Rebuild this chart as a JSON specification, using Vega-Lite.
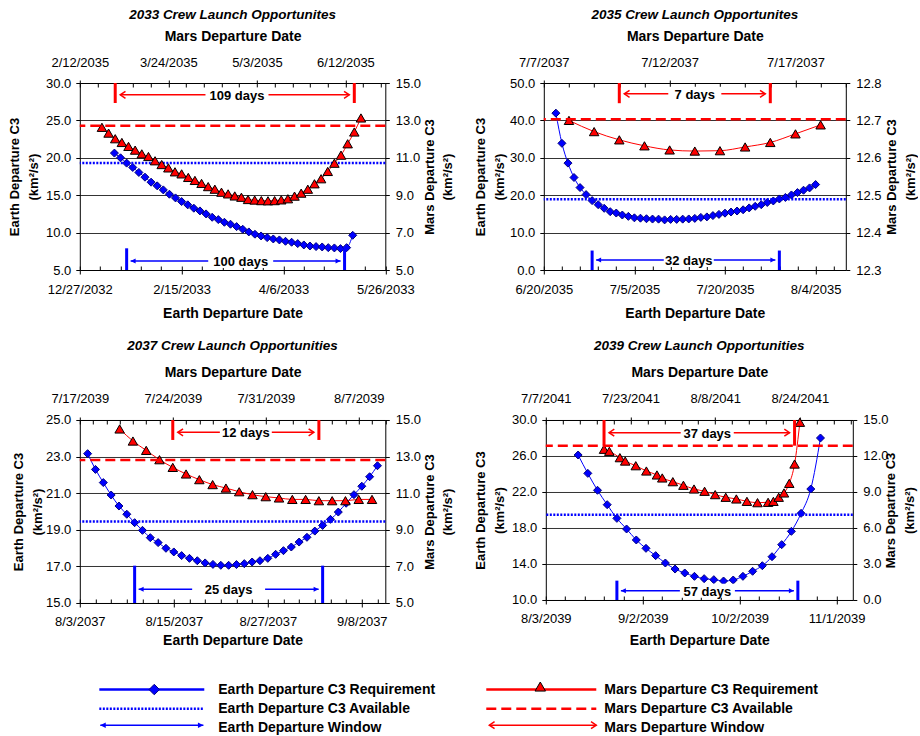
{
"$schema":"https://vega.github.io/schema/vega-lite/v6.json",
"background":"white",
"padding":{"left":8.8,"top":7,"right":0,"bottom":0},
"config":{
 "font":"Liberation Sans",
 "view":{"stroke":null},
 "axis":{"labelFont":"Liberation Sans","labelFontSize":13,"labelColor":"#000","titleFont":"Liberation Sans","titleFontSize":13,"titleFontWeight":"bold","titleColor":"#000","titleLineHeight":18.5,"domainColor":"#000","tickColor":"#000","gridColor":"#333","grid":false,"labelFlush":false,"labelOverlap":false,"labelBound":false},
 "axisX":{"titleFontSize":14},
 "title":{"font":"Liberation Sans","fontSize":13.5,"fontWeight":"bold","fontStyle":"italic","color":"#000","anchor":"middle","frame":"group"},
 "text":{"font":"Liberation Sans"}
},
"datasets":{
 "win":[
  {"p":1,"g":"E","s":"2033-01-19","e":"2033-05-06","m":"2033-03-16","t":"100 days","a":19.29},
  {"p":1,"g":"M","s":"2035-02-28","e":"2035-06-16","m":"2035-04-24","t":"109 days","a":12.71},
  {"p":2,"g":"E","s":"2035-06-28","e":"2035-07-29","m":"2035-07-14","t":"32 days","a":18.9},
  {"p":2,"g":"M","s":"2037-07-10","e":"2037-07-16","m":"2037-07-13","t":"7 days","a":12.703},
  {"p":3,"g":"E","s":"2037-08-10","e":"2037-09-03","m":"2037-08-22","t":"25 days","a":19.46},
  {"p":3,"g":"M","s":"2039-07-24","e":"2039-08-04","m":"2039-07-29T12:00:00Z","t":"12 days","a":12.81},
  {"p":4,"g":"E","s":"2039-08-25","e":"2039-10-20","m":"2039-09-22","t":"57 days","a":19.48},
  {"p":4,"g":"M","s":"2041-07-18","e":"2041-08-23","m":"2041-08-06T12:00:00Z","t":"37 days","a":12.86}
 ],
 "leg":[
  {"g":"E","k":"req","t":"Earth Departure C3 Requirement"},
  {"g":"E","k":"avail","t":"Earth Departure C3 Available"},
  {"g":"E","k":"win","t":"Earth Departure Window"},
  {"g":"M","k":"req","t":"Mars Departure C3 Requirement"},
  {"g":"M","k":"avail","t":"Mars Departure C3 Available"},
  {"g":"M","k":"win","t":"Mars Departure Window"}
 ],
 "e1":[{"d":"2033-01-13","v":20.63},{"d":"2033-01-16","v":20.0},{"d":"2033-01-19","v":19.29},{"d":"2033-01-22","v":18.71},{"d":"2033-01-25","v":18.04},{"d":"2033-01-28","v":17.41},{"d":"2033-01-31","v":16.74},{"d":"2033-02-03","v":16.25},{"d":"2033-02-06","v":15.71},{"d":"2033-02-09","v":15.13},{"d":"2033-02-12","v":14.64},{"d":"2033-02-15","v":14.15},{"d":"2033-02-18","v":13.71},{"d":"2033-02-21","v":13.26},{"d":"2033-02-24","v":12.9},{"d":"2033-02-27","v":12.5},{"d":"2033-03-02","v":12.05},{"d":"2033-03-05","v":11.74},{"d":"2033-03-08","v":11.38},{"d":"2033-03-11","v":11.12},{"d":"2033-03-14","v":10.8},{"d":"2033-03-17","v":10.45},{"d":"2033-03-20","v":10.09},{"d":"2033-03-23","v":9.78},{"d":"2033-03-26","v":9.55},{"d":"2033-03-29","v":9.33},{"d":"2033-04-01","v":9.15},{"d":"2033-04-04","v":9.02},{"d":"2033-04-07","v":8.84},{"d":"2033-04-10","v":8.71},{"d":"2033-04-13","v":8.53},{"d":"2033-04-16","v":8.35},{"d":"2033-04-19","v":8.21},{"d":"2033-04-22","v":8.13},{"d":"2033-04-25","v":8.08},{"d":"2033-04-28","v":7.99},{"d":"2033-05-01","v":7.95},{"d":"2033-05-04","v":7.86},{"d":"2033-05-07","v":7.99},{"d":"2033-05-10","v":9.64}],
 "m1":[{"d":"2035-02-22","v":12.63},{"d":"2035-02-25","v":12.32},{"d":"2035-02-28","v":12.02},{"d":"2035-03-03","v":11.82},{"d":"2035-03-06","v":11.61},{"d":"2035-03-09","v":11.41},{"d":"2035-03-12","v":11.21},{"d":"2035-03-15","v":11.07},{"d":"2035-03-18","v":10.84},{"d":"2035-03-21","v":10.64},{"d":"2035-03-24","v":10.46},{"d":"2035-03-27","v":10.25},{"d":"2035-03-30","v":10.14},{"d":"2035-04-02","v":9.95},{"d":"2035-04-05","v":9.79},{"d":"2035-04-08","v":9.63},{"d":"2035-04-11","v":9.46},{"d":"2035-04-14","v":9.32},{"d":"2035-04-17","v":9.16},{"d":"2035-04-20","v":9.07},{"d":"2035-04-23","v":8.96},{"d":"2035-04-26","v":8.89},{"d":"2035-04-29","v":8.77},{"d":"2035-05-02","v":8.74},{"d":"2035-05-05","v":8.71},{"d":"2035-05-08","v":8.7},{"d":"2035-05-11","v":8.71},{"d":"2035-05-14","v":8.75},{"d":"2035-05-17","v":8.81},{"d":"2035-05-20","v":8.95},{"d":"2035-05-23","v":9.11},{"d":"2035-05-26","v":9.32},{"d":"2035-05-29","v":9.61},{"d":"2035-06-01","v":9.88},{"d":"2035-06-04","v":10.27},{"d":"2035-06-07","v":10.71},{"d":"2035-06-10","v":11.14},{"d":"2035-06-13","v":11.75},{"d":"2035-06-16","v":12.38},{"d":"2035-06-19","v":13.13}],
 "e2":[{"d":"2035-06-22","v":41.94},{"d":"2035-06-23","v":33.87},{"d":"2035-06-24","v":28.58},{"d":"2035-06-25","v":24.73},{"d":"2035-06-26","v":22.04},{"d":"2035-06-27","v":20.16},{"d":"2035-06-28","v":18.55},{"d":"2035-06-29","v":17.47},{"d":"2035-06-30","v":16.49},{"d":"2035-07-01","v":15.59},{"d":"2035-07-02","v":15.23},{"d":"2035-07-03","v":14.7},{"d":"2035-07-04","v":14.34},{"d":"2035-07-05","v":13.95},{"d":"2035-07-06","v":13.85},{"d":"2035-07-07","v":13.71},{"d":"2035-07-08","v":13.62},{"d":"2035-07-09","v":13.6},{"d":"2035-07-10","v":13.4},{"d":"2035-07-11","v":13.53},{"d":"2035-07-12","v":13.53},{"d":"2035-07-13","v":13.6},{"d":"2035-07-14","v":13.65},{"d":"2035-07-15","v":13.8},{"d":"2035-07-16","v":14.07},{"d":"2035-07-17","v":14.2},{"d":"2035-07-18","v":14.55},{"d":"2035-07-19","v":14.87},{"d":"2035-07-20","v":15.2},{"d":"2035-07-21","v":15.5},{"d":"2035-07-22","v":15.77},{"d":"2035-07-23","v":16.1},{"d":"2035-07-24","v":16.6},{"d":"2035-07-25","v":17.03},{"d":"2035-07-26","v":17.47},{"d":"2035-07-27","v":18.05},{"d":"2035-07-28","v":18.46},{"d":"2035-07-29","v":19.0},{"d":"2035-07-30","v":19.4},{"d":"2035-07-31","v":20.07},{"d":"2035-08-01","v":20.7},{"d":"2035-08-02","v":21.33},{"d":"2035-08-03","v":21.95},{"d":"2035-08-04","v":22.85}],
 "m2":[{"d":"2037-07-08","v":12.7},{"d":"2037-07-09","v":12.67},{"d":"2037-07-10","v":12.648},{"d":"2037-07-11","v":12.632},{"d":"2037-07-12","v":12.621},{"d":"2037-07-13","v":12.618},{"d":"2037-07-14","v":12.619},{"d":"2037-07-15","v":12.629},{"d":"2037-07-16","v":12.641},{"d":"2037-07-17","v":12.664},{"d":"2037-07-18","v":12.688}],
 "e3":[{"d":"2037-08-04","v":23.16},{"d":"2037-08-05","v":22.3},{"d":"2037-08-06","v":21.58},{"d":"2037-08-07","v":20.9},{"d":"2037-08-08","v":20.3},{"d":"2037-08-09","v":19.85},{"d":"2037-08-10","v":19.39},{"d":"2037-08-11","v":18.97},{"d":"2037-08-12","v":18.57},{"d":"2037-08-13","v":18.3},{"d":"2037-08-14","v":17.99},{"d":"2037-08-15","v":17.79},{"d":"2037-08-16","v":17.59},{"d":"2037-08-17","v":17.44},{"d":"2037-08-18","v":17.31},{"d":"2037-08-19","v":17.19},{"d":"2037-08-20","v":17.11},{"d":"2037-08-21","v":17.06},{"d":"2037-08-22","v":17.06},{"d":"2037-08-23","v":17.1},{"d":"2037-08-24","v":17.15},{"d":"2037-08-25","v":17.24},{"d":"2037-08-26","v":17.31},{"d":"2037-08-27","v":17.44},{"d":"2037-08-28","v":17.66},{"d":"2037-08-29","v":17.86},{"d":"2037-08-30","v":18.06},{"d":"2037-08-31","v":18.33},{"d":"2037-09-01","v":18.59},{"d":"2037-09-02","v":18.93},{"d":"2037-09-03","v":19.24},{"d":"2037-09-04","v":19.57},{"d":"2037-09-05","v":19.97},{"d":"2037-09-06","v":20.45},{"d":"2037-09-07","v":20.92},{"d":"2037-09-08","v":21.38},{"d":"2037-09-09","v":21.9},{"d":"2037-09-10","v":22.5}],
 "m3":[{"d":"2039-07-20","v":14.51},{"d":"2039-07-21","v":13.85},{"d":"2039-07-22","v":13.34},{"d":"2039-07-23","v":12.83},{"d":"2039-07-24","v":12.41},{"d":"2039-07-25","v":12.05},{"d":"2039-07-26","v":11.74},{"d":"2039-07-27","v":11.47},{"d":"2039-07-28","v":11.28},{"d":"2039-07-29","v":11.08},{"d":"2039-07-30","v":10.92},{"d":"2039-07-31","v":10.81},{"d":"2039-08-01","v":10.74},{"d":"2039-08-02","v":10.66},{"d":"2039-08-03","v":10.66},{"d":"2039-08-04","v":10.59},{"d":"2039-08-05","v":10.59},{"d":"2039-08-06","v":10.59},{"d":"2039-08-07","v":10.66},{"d":"2039-08-08","v":10.66}],
 "e4":[{"d":"2039-08-13","v":26.11},{"d":"2039-08-16","v":24.07},{"d":"2039-08-19","v":22.19},{"d":"2039-08-22","v":20.59},{"d":"2039-08-25","v":19.07},{"d":"2039-08-28","v":17.89},{"d":"2039-08-31","v":16.67},{"d":"2039-09-03","v":15.74},{"d":"2039-09-06","v":14.93},{"d":"2039-09-09","v":14.11},{"d":"2039-09-12","v":13.44},{"d":"2039-09-15","v":13.0},{"d":"2039-09-18","v":12.63},{"d":"2039-09-21","v":12.37},{"d":"2039-09-24","v":12.26},{"d":"2039-09-27","v":12.11},{"d":"2039-09-30","v":12.22},{"d":"2039-10-03","v":12.63},{"d":"2039-10-06","v":13.19},{"d":"2039-10-09","v":13.81},{"d":"2039-10-12","v":14.81},{"d":"2039-10-15","v":16.15},{"d":"2039-10-18","v":17.63},{"d":"2039-10-21","v":19.63},{"d":"2039-10-24","v":22.33},{"d":"2039-10-27","v":28.0}],
 "m4":[{"d":"2041-07-18","v":12.56},{"d":"2041-07-19","v":12.39},{"d":"2041-07-21","v":11.86},{"d":"2041-07-22","v":11.58},{"d":"2041-07-24","v":11.19},{"d":"2041-07-26","v":10.75},{"d":"2041-07-28","v":10.42},{"d":"2041-07-29","v":10.17},{"d":"2041-07-31","v":9.86},{"d":"2041-08-02","v":9.56},{"d":"2041-08-04","v":9.25},{"d":"2041-08-06","v":9.06},{"d":"2041-08-08","v":8.78},{"d":"2041-08-10","v":8.56},{"d":"2041-08-12","v":8.42},{"d":"2041-08-14","v":8.22},{"d":"2041-08-16","v":8.11},{"d":"2041-08-18","v":8.14},{"d":"2041-08-19","v":8.22},{"d":"2041-08-20","v":8.56},{"d":"2041-08-21","v":8.92},{"d":"2041-08-22","v":9.72},{"d":"2041-08-23","v":11.33},{"d":"2041-08-24","v":14.81}]
},
"columns":1,
"spacing":18,
"concat":[
{"spacing":20,"hconcat":[
{
 "width":305.5,"height":187,
 "title":{"text":"2033 Crew Launch Opportunites","offset":8},
 "layer":[
  {"data":{"name":"win"},"transform":[{"filter":"datum.p==1 && datum.g=='E'"}],
   "layer":[
    {"data":{"name":"e1"},"mark":{"type":"line","color":"#0000ff","strokeWidth":1,"interpolate":"monotone"},
     "encoding":{"x":{"field":"d","type":"temporal","scale":{"domain":[{"year":2032,"month":12,"date":27,"utc":true},{"year":2033,"month":5,"date":26,"utc":true}],"nice":false},"axis":{"orient":"bottom","values":["2032-12-27","2033-02-15","2033-04-06","2033-05-26"],"labelExpr":"utcFormat(datum.value, '%-m/%-d/%Y')","title":"Earth Departure Date","tickSize":4,"labelPadding":9,"titlePadding":10}},
      "y":{"field":"v","type":"quantitative","scale":{"domain":[5,30],"zero":false,"nice":false},"axis":{"orient":"left","values":[5,10,15,20,25,30],"format":".1f","grid":true,"title":["Earth Departure C3","(km²/s²)"],"tickSize":4,"labelPadding":5,"titlePadding":5}}}},
    {"data":{"name":"e1"},"mark":{"type":"point","shape":"diamond","filled":true,"color":"#0000ff","stroke":"#000080","strokeWidth":1,"size":64,"opacity":1},
     "encoding":{"x":{"field":"d","type":"temporal","axis":{"orient":"bottom","values":["2032-12-27","2033-01-06","2033-01-16","2033-01-26","2033-02-05","2033-02-15","2033-02-25","2033-03-07","2033-03-17","2033-03-27","2033-04-06","2033-04-16","2033-04-26","2033-05-06","2033-05-16","2033-05-26"],"labels":false,"domain":false,"tickSize":-4,"title":null}},"y":{"field":"v","type":"quantitative","axis":null}}},
    {"mark":{"type":"rule","color":"#0000ff","strokeWidth":2.5,"strokeDash":[2,1.5]},"encoding":{"y":{"field":"a","type":"quantitative","axis":null}}},
    {"mark":{"type":"rule","color":"#0000ff","strokeWidth":3},"encoding":{"x":{"field":"s","type":"temporal","axis":null},"y":{"datum":5,"type":"quantitative","axis":null},"y2":{"datum":7.9}}},
    {"mark":{"type":"rule","color":"#0000ff","strokeWidth":3},"encoding":{"x":{"field":"e","type":"temporal","axis":null},"y":{"datum":5,"type":"quantitative","axis":null},"y2":{"datum":7.9}}},
    {"mark":{"type":"rule","color":"#0000ff","strokeWidth":1.5,"xOffset":4,"x2Offset":-4},"encoding":{"x":{"field":"s","type":"temporal","axis":null},"x2":{"field":"e"},"y":{"datum":6.2,"type":"quantitative","axis":null}}},
    {"mark":{"type":"point","shape":"M0,0L2,-1L2,1Z","filled":true,"color":"#0000ff","size":25,"opacity":1,"xOffset":4},"encoding":{"x":{"field":"s","type":"temporal","axis":null},"y":{"datum":6.2,"type":"quantitative","axis":null}}},
    {"mark":{"type":"point","shape":"M0,0L-2,-1L-2,1Z","filled":true,"color":"#0000ff","size":25,"opacity":1,"xOffset":-4},"encoding":{"x":{"field":"e","type":"temporal","axis":null},"y":{"datum":6.2,"type":"quantitative","axis":null}}},
    {"mark":{"type":"point","shape":"M-4.64,-1L4.64,-1L4.64,1L-4.64,1Z","filled":true,"color":"#ffffff","size":196,"opacity":1},"encoding":{"x":{"field":"m","type":"temporal","axis":null},"y":{"datum":6.2,"type":"quantitative","axis":null}}},
    {"mark":{"type":"text","fontSize":13,"fontWeight":"bold","color":"#000","dy":1},"encoding":{"x":{"field":"m","type":"temporal","axis":null},"y":{"datum":6.2,"type":"quantitative","axis":null},"text":{"field":"t"}}}
   ],
   "resolve":{"axis":{"x":"independent","y":"independent"}}},
  {"data":{"name":"win"},"transform":[{"filter":"datum.p==1 && datum.g=='M'"}],
   "layer":[
    {"data":{"name":"m1"},"mark":{"type":"line","color":"#ff0000","strokeWidth":1,"interpolate":"monotone"},
     "encoding":{"x":{"field":"d","type":"temporal","scale":{"domain":[{"year":2035,"month":2,"date":12,"utc":true},{"year":2035,"month":6,"date":30,"utc":true}],"nice":false},"axis":{"orient":"top","values":["2035-02-12","2035-03-24","2035-05-03","2035-06-12"],"labelExpr":"utcFormat(datum.value, '%-m/%-d/%Y')","title":"Mars Departure Date","tickSize":3,"labelPadding":11,"titlePadding":13}},
      "y":{"field":"v","type":"quantitative","scale":{"domain":[5,15],"zero":false,"nice":false},"axis":{"orient":"right","values":[5,7,9,11,13,15],"format":".1f","title":["Mars Departure C3","(km²/s²)"],"titleAngle":-90,"titleBaseline":"top","tickSize":4,"labelPadding":6,"titlePadding":-16}}}},
    {"data":{"name":"m1"},"mark":{"type":"point","shape":"triangle-up","filled":true,"color":"#ff0000","stroke":"#000","strokeWidth":1,"size":90,"opacity":1},
     "encoding":{"x":{"field":"d","type":"temporal","axis":{"orient":"top","values":["2035-02-12","2035-02-20","2035-02-28","2035-03-08","2035-03-16","2035-03-24","2035-04-01","2035-04-09","2035-04-17","2035-04-25","2035-05-03","2035-05-11","2035-05-19","2035-05-27","2035-06-04","2035-06-12","2035-06-20","2035-06-28"],"labels":false,"domain":false,"tickSize":-4,"title":null}},"y":{"field":"v","type":"quantitative","axis":null}}},
    {"mark":{"type":"rule","color":"#ff0000","strokeWidth":2.5,"strokeDash":[10,5]},"encoding":{"y":{"field":"a","type":"quantitative","axis":null}}},
    {"mark":{"type":"rule","color":"#ff0000","strokeWidth":3},"encoding":{"x":{"field":"s","type":"temporal","axis":null},"y":{"datum":13.93,"type":"quantitative","axis":null},"y2":{"datum":15}}},
    {"mark":{"type":"rule","color":"#ff0000","strokeWidth":3},"encoding":{"x":{"field":"e","type":"temporal","axis":null},"y":{"datum":13.93,"type":"quantitative","axis":null},"y2":{"datum":15}}},
    {"mark":{"type":"rule","color":"#ff0000","strokeWidth":1.5,"xOffset":5,"x2Offset":-5},"encoding":{"x":{"field":"s","type":"temporal","axis":null},"x2":{"field":"e"},"y":{"datum":14.37,"type":"quantitative","axis":null}}},
    {"mark":{"type":"point","shape":"M1.5,-1L0,0L1.5,1","filled":false,"color":"#ff0000","strokeWidth":1.5,"size":49,"opacity":1,"xOffset":5},"encoding":{"x":{"field":"s","type":"temporal","axis":null},"y":{"datum":14.37,"type":"quantitative","axis":null}}},
    {"mark":{"type":"point","shape":"M-1.5,-1L0,0L-1.5,1","filled":false,"color":"#ff0000","strokeWidth":1.5,"size":49,"opacity":1,"xOffset":-5},"encoding":{"x":{"field":"e","type":"temporal","axis":null},"y":{"datum":14.37,"type":"quantitative","axis":null}}},
    {"mark":{"type":"point","shape":"M-4.5,-1L4.5,-1L4.5,1L-4.5,1Z","filled":true,"color":"#ffffff","size":196,"opacity":1},"encoding":{"x":{"field":"m","type":"temporal","axis":null},"y":{"datum":14.37,"type":"quantitative","axis":null}}},
    {"mark":{"type":"text","fontSize":13,"fontWeight":"bold","color":"#000","dy":1},"encoding":{"x":{"field":"m","type":"temporal","axis":null},"y":{"datum":14.37,"type":"quantitative","axis":null},"text":{"field":"t"}}}
   ],
   "resolve":{"axis":{"x":"independent","y":"independent"}}}
 ],
 "resolve":{"scale":{"x":"independent","y":"independent"}}
},
{
 "width":302,"height":187,
 "title":{"text":"2035 Crew Launch Opportunites","offset":8},
 "layer":[
  {"data":{"name":"win"},"transform":[{"filter":"datum.p==2 && datum.g=='E'"}],
   "layer":[
    {"data":{"name":"e2"},"mark":{"type":"line","color":"#0000ff","strokeWidth":1,"interpolate":"monotone"},
     "encoding":{"x":{"field":"d","type":"temporal","scale":{"domain":[{"year":2035,"month":6,"date":20,"utc":true},{"year":2035,"month":8,"date":9,"utc":true}],"nice":false},"axis":{"orient":"bottom","values":["2035-06-20","2035-07-05","2035-07-20","2035-08-04"],"labelExpr":"utcFormat(datum.value, '%-m/%-d/%Y')","title":"Earth Departure Date","tickSize":4,"labelPadding":9,"titlePadding":10}},
      "y":{"field":"v","type":"quantitative","scale":{"domain":[0,50],"zero":false,"nice":false},"axis":{"orient":"left","values":[0,10,20,30,40,50],"format":".1f","grid":true,"title":["Earth Departure C3","(km²/s²)"],"tickSize":4,"labelPadding":5,"titlePadding":3}}}},
    {"data":{"name":"e2"},"mark":{"type":"point","shape":"diamond","filled":true,"color":"#0000ff","stroke":"#000080","strokeWidth":1,"size":64,"opacity":1},
     "encoding":{"x":{"field":"d","type":"temporal","axis":{"orient":"bottom","values":["2035-06-20","2035-06-23","2035-06-26","2035-06-29","2035-07-02","2035-07-05","2035-07-08","2035-07-11","2035-07-14","2035-07-17","2035-07-20","2035-07-23","2035-07-26","2035-07-29","2035-08-01","2035-08-04","2035-08-07"],"labels":false,"domain":false,"tickSize":-4,"title":null}},"y":{"field":"v","type":"quantitative","axis":null}}},
    {"mark":{"type":"rule","color":"#0000ff","strokeWidth":2.5,"strokeDash":[2,1.5]},"encoding":{"y":{"field":"a","type":"quantitative","axis":null}}},
    {"mark":{"type":"rule","color":"#0000ff","strokeWidth":3},"encoding":{"x":{"field":"s","type":"temporal","axis":null},"y":{"datum":0,"type":"quantitative","axis":null},"y2":{"datum":5.2}}},
    {"mark":{"type":"rule","color":"#0000ff","strokeWidth":3},"encoding":{"x":{"field":"e","type":"temporal","axis":null},"y":{"datum":0,"type":"quantitative","axis":null},"y2":{"datum":5.2}}},
    {"mark":{"type":"rule","color":"#0000ff","strokeWidth":1.5,"xOffset":4,"x2Offset":-4},"encoding":{"x":{"field":"s","type":"temporal","axis":null},"x2":{"field":"e"},"y":{"datum":2.69,"type":"quantitative","axis":null}}},
    {"mark":{"type":"point","shape":"M0,0L2,-1L2,1Z","filled":true,"color":"#0000ff","size":25,"opacity":1,"xOffset":4},"encoding":{"x":{"field":"s","type":"temporal","axis":null},"y":{"datum":2.69,"type":"quantitative","axis":null}}},
    {"mark":{"type":"point","shape":"M0,0L-2,-1L-2,1Z","filled":true,"color":"#0000ff","size":25,"opacity":1,"xOffset":-4},"encoding":{"x":{"field":"e","type":"temporal","axis":null},"y":{"datum":2.69,"type":"quantitative","axis":null}}},
    {"mark":{"type":"point","shape":"M-3.57,-1L3.57,-1L3.57,1L-3.57,1Z","filled":true,"color":"#ffffff","size":196,"opacity":1},"encoding":{"x":{"field":"m","type":"temporal","axis":null},"y":{"datum":2.69,"type":"quantitative","axis":null}}},
    {"mark":{"type":"text","fontSize":13,"fontWeight":"bold","color":"#000","dy":1},"encoding":{"x":{"field":"m","type":"temporal","axis":null},"y":{"datum":2.69,"type":"quantitative","axis":null},"text":{"field":"t"}}}
   ],
   "resolve":{"axis":{"x":"independent","y":"independent"}}},
  {"data":{"name":"win"},"transform":[{"filter":"datum.p==2 && datum.g=='M'"}],
   "layer":[
    {"data":{"name":"m2"},"mark":{"type":"line","color":"#ff0000","strokeWidth":1,"interpolate":"monotone"},
     "encoding":{"x":{"field":"d","type":"temporal","scale":{"domain":[{"year":2037,"month":7,"date":7,"utc":true},{"year":2037,"month":7,"date":19,"utc":true}],"nice":false},"axis":{"orient":"top","values":["2037-07-07","2037-07-12","2037-07-17"],"labelExpr":"utcFormat(datum.value, '%-m/%-d/%Y')","title":"Mars Departure Date","tickSize":3,"labelPadding":11,"titlePadding":13}},
      "y":{"field":"v","type":"quantitative","scale":{"domain":[12.3,12.8],"zero":false,"nice":false},"axis":{"orient":"right","values":[12.3,12.4,12.5,12.6,12.7,12.8],"format":".1f","title":["Mars Departure C3","(km²/s²)"],"titleAngle":-90,"titleBaseline":"top","tickSize":4,"labelPadding":6,"titlePadding":-14}}}},
    {"data":{"name":"m2"},"mark":{"type":"point","shape":"triangle-up","filled":true,"color":"#ff0000","stroke":"#000","strokeWidth":1,"size":90,"opacity":1},
     "encoding":{"x":{"field":"d","type":"temporal","axis":{"orient":"top","values":["2037-07-07","2037-07-08","2037-07-09","2037-07-10","2037-07-11","2037-07-12","2037-07-13","2037-07-14","2037-07-15","2037-07-16","2037-07-17","2037-07-18","2037-07-19"],"labels":false,"domain":false,"tickSize":-4,"title":null}},"y":{"field":"v","type":"quantitative","axis":null}}},
    {"mark":{"type":"rule","color":"#ff0000","strokeWidth":2.5,"strokeDash":[10,5]},"encoding":{"y":{"field":"a","type":"quantitative","axis":null}}},
    {"mark":{"type":"rule","color":"#ff0000","strokeWidth":3},"encoding":{"x":{"field":"s","type":"temporal","axis":null},"y":{"datum":12.746,"type":"quantitative","axis":null},"y2":{"datum":12.8}}},
    {"mark":{"type":"rule","color":"#ff0000","strokeWidth":3},"encoding":{"x":{"field":"e","type":"temporal","axis":null},"y":{"datum":12.746,"type":"quantitative","axis":null},"y2":{"datum":12.8}}},
    {"mark":{"type":"rule","color":"#ff0000","strokeWidth":1.5,"xOffset":5,"x2Offset":-5},"encoding":{"x":{"field":"s","type":"temporal","axis":null},"x2":{"field":"e"},"y":{"datum":12.771,"type":"quantitative","axis":null}}},
    {"mark":{"type":"point","shape":"M1.5,-1L0,0L1.5,1","filled":false,"color":"#ff0000","strokeWidth":1.5,"size":49,"opacity":1,"xOffset":5},"encoding":{"x":{"field":"s","type":"temporal","axis":null},"y":{"datum":12.771,"type":"quantitative","axis":null}}},
    {"mark":{"type":"point","shape":"M-1.5,-1L0,0L-1.5,1","filled":false,"color":"#ff0000","strokeWidth":1.5,"size":49,"opacity":1,"xOffset":-5},"encoding":{"x":{"field":"e","type":"temporal","axis":null},"y":{"datum":12.771,"type":"quantitative","axis":null}}},
    {"mark":{"type":"point","shape":"M-3.79,-1L3.79,-1L3.79,1L-3.79,1Z","filled":true,"color":"#ffffff","size":196,"opacity":1},"encoding":{"x":{"field":"m","type":"temporal","axis":null},"y":{"datum":12.771,"type":"quantitative","axis":null}}},
    {"mark":{"type":"text","fontSize":13,"fontWeight":"bold","color":"#000","dy":1},"encoding":{"x":{"field":"m","type":"temporal","axis":null},"y":{"datum":12.771,"type":"quantitative","axis":null},"text":{"field":"t"}}}
   ],
   "resolve":{"axis":{"x":"independent","y":"independent"}}}
 ],
 "resolve":{"scale":{"x":"independent","y":"independent"}}
}
]},
{"spacing":20,"hconcat":[
{
 "width":305.5,"height":183,
 "title":{"text":"2037 Crew Launch Opportunities","offset":14},
 "layer":[
  {"data":{"name":"win"},"transform":[{"filter":"datum.p==3 && datum.g=='E'"}],
   "layer":[
    {"data":{"name":"e3"},"mark":{"type":"line","color":"#0000ff","strokeWidth":1,"interpolate":"monotone"},
     "encoding":{"x":{"field":"d","type":"temporal","scale":{"domain":[{"year":2037,"month":8,"date":3,"utc":true},{"year":2037,"month":9,"date":11,"utc":true}],"nice":false},"axis":{"orient":"bottom","values":["2037-08-03","2037-08-15","2037-08-27","2037-09-08"],"labelExpr":"utcFormat(datum.value, '%-m/%-d/%Y')","title":"Earth Departure Date","tickSize":4,"labelPadding":9,"titlePadding":5}},
      "y":{"field":"v","type":"quantitative","scale":{"domain":[15,25],"zero":false,"nice":false},"axis":{"orient":"left","values":[15,17,19,21,23,25],"format":".1f","grid":true,"title":["Earth Departure C3","(km²/s²)"],"tickSize":4,"labelPadding":5,"titlePadding":1}}}},
    {"data":{"name":"e3"},"mark":{"type":"point","shape":"diamond","filled":true,"color":"#0000ff","stroke":"#000080","strokeWidth":1,"size":64,"opacity":1},
     "encoding":{"x":{"field":"d","type":"temporal","axis":{"orient":"bottom","values":["2037-08-03","2037-08-05","2037-08-07","2037-08-09","2037-08-11","2037-08-13","2037-08-15","2037-08-17","2037-08-19","2037-08-21","2037-08-23","2037-08-25","2037-08-27","2037-08-29","2037-08-31","2037-09-02","2037-09-04","2037-09-06","2037-09-08","2037-09-10"],"labels":false,"domain":false,"tickSize":-4,"title":null}},"y":{"field":"v","type":"quantitative","axis":null}}},
    {"mark":{"type":"rule","color":"#0000ff","strokeWidth":2.5,"strokeDash":[2,1.5]},"encoding":{"y":{"field":"a","type":"quantitative","axis":null}}},
    {"mark":{"type":"rule","color":"#0000ff","strokeWidth":3},"encoding":{"x":{"field":"s","type":"temporal","axis":null},"y":{"datum":15,"type":"quantitative","axis":null},"y2":{"datum":17.04}}},
    {"mark":{"type":"rule","color":"#0000ff","strokeWidth":3},"encoding":{"x":{"field":"e","type":"temporal","axis":null},"y":{"datum":15,"type":"quantitative","axis":null},"y2":{"datum":17.04}}},
    {"mark":{"type":"rule","color":"#0000ff","strokeWidth":1.5,"xOffset":4,"x2Offset":-4},"encoding":{"x":{"field":"s","type":"temporal","axis":null},"x2":{"field":"e"},"y":{"datum":15.75,"type":"quantitative","axis":null}}},
    {"mark":{"type":"point","shape":"M0,0L2,-1L2,1Z","filled":true,"color":"#0000ff","size":25,"opacity":1,"xOffset":4},"encoding":{"x":{"field":"s","type":"temporal","axis":null},"y":{"datum":15.75,"type":"quantitative","axis":null}}},
    {"mark":{"type":"point","shape":"M0,0L-2,-1L-2,1Z","filled":true,"color":"#0000ff","size":25,"opacity":1,"xOffset":-4},"encoding":{"x":{"field":"e","type":"temporal","axis":null},"y":{"datum":15.75,"type":"quantitative","axis":null}}},
    {"mark":{"type":"point","shape":"M-5.21,-1L5.21,-1L5.21,1L-5.21,1Z","filled":true,"color":"#ffffff","size":196,"opacity":1},"encoding":{"x":{"field":"m","type":"temporal","axis":null},"y":{"datum":15.75,"type":"quantitative","axis":null}}},
    {"mark":{"type":"text","fontSize":13,"fontWeight":"bold","color":"#000","dy":1},"encoding":{"x":{"field":"m","type":"temporal","axis":null},"y":{"datum":15.75,"type":"quantitative","axis":null},"text":{"field":"t"}}}
   ],
   "resolve":{"axis":{"x":"independent","y":"independent"}}},
  {"data":{"name":"win"},"transform":[{"filter":"datum.p==3 && datum.g=='M'"}],
   "layer":[
    {"data":{"name":"m3"},"mark":{"type":"line","color":"#ff0000","strokeWidth":1,"interpolate":"monotone"},
     "encoding":{"x":{"field":"d","type":"temporal","scale":{"domain":[{"year":2039,"month":7,"date":17,"utc":true},{"year":2039,"month":8,"date":9,"utc":true}],"nice":false},"axis":{"orient":"top","values":["2039-07-17","2039-07-24","2039-07-31","2039-08-07"],"labelExpr":"utcFormat(datum.value, '%-m/%-d/%Y')","title":"Mars Departure Date","tickSize":3,"labelPadding":11,"titlePadding":13}},
      "y":{"field":"v","type":"quantitative","scale":{"domain":[5,15],"zero":false,"nice":false},"axis":{"orient":"right","values":[5,7,9,11,13,15],"format":".1f","title":["Mars Departure C3","(km²/s²)"],"titleAngle":-90,"titleBaseline":"top","tickSize":4,"labelPadding":6,"titlePadding":-16}}}},
    {"data":{"name":"m3"},"mark":{"type":"point","shape":"triangle-up","filled":true,"color":"#ff0000","stroke":"#000","strokeWidth":1,"size":90,"opacity":1},
     "encoding":{"x":{"field":"d","type":"temporal","axis":{"orient":"top","values":["2039-07-17","2039-07-18","2039-07-19","2039-07-20","2039-07-21","2039-07-22","2039-07-23","2039-07-24","2039-07-25","2039-07-26","2039-07-27","2039-07-28","2039-07-29","2039-07-30","2039-07-31","2039-08-01","2039-08-02","2039-08-03","2039-08-04","2039-08-05","2039-08-06","2039-08-07","2039-08-08","2039-08-09"],"labels":false,"domain":false,"tickSize":-4,"title":null}},"y":{"field":"v","type":"quantitative","axis":null}}},
    {"mark":{"type":"rule","color":"#ff0000","strokeWidth":2.5,"strokeDash":[10,5]},"encoding":{"y":{"field":"a","type":"quantitative","axis":null}}},
    {"mark":{"type":"rule","color":"#ff0000","strokeWidth":3},"encoding":{"x":{"field":"s","type":"temporal","axis":null},"y":{"datum":13.91,"type":"quantitative","axis":null},"y2":{"datum":15}}},
    {"mark":{"type":"rule","color":"#ff0000","strokeWidth":3},"encoding":{"x":{"field":"e","type":"temporal","axis":null},"y":{"datum":13.91,"type":"quantitative","axis":null},"y2":{"datum":15}}},
    {"mark":{"type":"rule","color":"#ff0000","strokeWidth":1.5,"xOffset":5,"x2Offset":-5},"encoding":{"x":{"field":"s","type":"temporal","axis":null},"x2":{"field":"e"},"y":{"datum":14.33,"type":"quantitative","axis":null}}},
    {"mark":{"type":"point","shape":"M1.5,-1L0,0L1.5,1","filled":false,"color":"#ff0000","strokeWidth":1.5,"size":49,"opacity":1,"xOffset":5},"encoding":{"x":{"field":"s","type":"temporal","axis":null},"y":{"datum":14.33,"type":"quantitative","axis":null}}},
    {"mark":{"type":"point","shape":"M-1.5,-1L0,0L-1.5,1","filled":false,"color":"#ff0000","strokeWidth":1.5,"size":49,"opacity":1,"xOffset":-5},"encoding":{"x":{"field":"e","type":"temporal","axis":null},"y":{"datum":14.33,"type":"quantitative","axis":null}}},
    {"mark":{"type":"point","shape":"M-3.71,-1L3.71,-1L3.71,1L-3.71,1Z","filled":true,"color":"#ffffff","size":196,"opacity":1},"encoding":{"x":{"field":"m","type":"temporal","axis":null},"y":{"datum":14.33,"type":"quantitative","axis":null}}},
    {"mark":{"type":"text","fontSize":13,"fontWeight":"bold","color":"#000","dy":1},"encoding":{"x":{"field":"m","type":"temporal","axis":null},"y":{"datum":14.33,"type":"quantitative","axis":null},"text":{"field":"t"}}}
   ],
   "resolve":{"axis":{"x":"independent","y":"independent"}}}
 ],
 "resolve":{"scale":{"x":"independent","y":"independent"}}
},
{
 "width":307,"height":180,
 "title":{"text":"2039 Crew Launch Opportunities","offset":14},
 "layer":[
  {"data":{"name":"win"},"transform":[{"filter":"datum.p==4 && datum.g=='E'"}],
   "layer":[
    {"data":{"name":"e4"},"mark":{"type":"line","color":"#0000ff","strokeWidth":1,"interpolate":"monotone"},
     "encoding":{"x":{"field":"d","type":"temporal","scale":{"domain":[{"year":2039,"month":8,"date":3,"utc":true},{"year":2039,"month":11,"date":6,"utc":true}],"nice":false},"axis":{"orient":"bottom","values":["2039-08-03","2039-09-02","2039-10-02","2039-11-01"],"labelExpr":"utcFormat(datum.value, '%-m/%-d/%Y')","title":"Earth Departure Date","tickSize":4,"labelPadding":9,"titlePadding":8}},
      "y":{"field":"v","type":"quantitative","scale":{"domain":[10,30],"zero":false,"nice":false},"axis":{"orient":"left","values":[10,14,18,22,26,30],"format":".1f","grid":true,"title":["Earth Departure C3","(km²/s²)"],"tickSize":4,"labelPadding":5,"titlePadding":5}}}},
    {"data":{"name":"e4"},"mark":{"type":"point","shape":"diamond","filled":true,"color":"#0000ff","stroke":"#000080","strokeWidth":1,"size":64,"opacity":1},
     "encoding":{"x":{"field":"d","type":"temporal","axis":{"orient":"bottom","values":["2039-08-03","2039-08-09","2039-08-15","2039-08-21","2039-08-27","2039-09-02","2039-09-08","2039-09-14","2039-09-20","2039-09-26","2039-10-02","2039-10-08","2039-10-14","2039-10-20","2039-10-26","2039-11-01"],"labels":false,"domain":false,"tickSize":-4,"title":null}},"y":{"field":"v","type":"quantitative","axis":null}}},
    {"mark":{"type":"rule","color":"#0000ff","strokeWidth":2.5,"strokeDash":[2,1.5]},"encoding":{"y":{"field":"a","type":"quantitative","axis":null}}},
    {"mark":{"type":"rule","color":"#0000ff","strokeWidth":3},"encoding":{"x":{"field":"s","type":"temporal","axis":null},"y":{"datum":10,"type":"quantitative","axis":null},"y2":{"datum":12.15}}},
    {"mark":{"type":"rule","color":"#0000ff","strokeWidth":3},"encoding":{"x":{"field":"e","type":"temporal","axis":null},"y":{"datum":10,"type":"quantitative","axis":null},"y2":{"datum":12.15}}},
    {"mark":{"type":"rule","color":"#0000ff","strokeWidth":1.5,"xOffset":4,"x2Offset":-4},"encoding":{"x":{"field":"s","type":"temporal","axis":null},"x2":{"field":"e"},"y":{"datum":11.04,"type":"quantitative","axis":null}}},
    {"mark":{"type":"point","shape":"M0,0L2,-1L2,1Z","filled":true,"color":"#0000ff","size":25,"opacity":1,"xOffset":4},"encoding":{"x":{"field":"s","type":"temporal","axis":null},"y":{"datum":11.04,"type":"quantitative","axis":null}}},
    {"mark":{"type":"point","shape":"M0,0L-2,-1L-2,1Z","filled":true,"color":"#0000ff","size":25,"opacity":1,"xOffset":-4},"encoding":{"x":{"field":"e","type":"temporal","axis":null},"y":{"datum":11.04,"type":"quantitative","axis":null}}},
    {"mark":{"type":"point","shape":"M-3.93,-1L3.93,-1L3.93,1L-3.93,1Z","filled":true,"color":"#ffffff","size":196,"opacity":1},"encoding":{"x":{"field":"m","type":"temporal","axis":null},"y":{"datum":11.04,"type":"quantitative","axis":null}}},
    {"mark":{"type":"text","fontSize":13,"fontWeight":"bold","color":"#000","dy":1},"encoding":{"x":{"field":"m","type":"temporal","axis":null},"y":{"datum":11.04,"type":"quantitative","axis":null},"text":{"field":"t"}}}
   ],
   "resolve":{"axis":{"x":"independent","y":"independent"}}},
  {"data":{"name":"win"},"transform":[{"filter":"datum.p==4 && datum.g=='M'"}],
   "layer":[
    {"data":{"name":"m4"},"mark":{"type":"line","color":"#ff0000","strokeWidth":1,"interpolate":"monotone"},
     "encoding":{"x":{"field":"d","type":"temporal","scale":{"domain":[{"year":2041,"month":7,"date":7,"utc":true},{"year":2041,"month":9,"date":3,"utc":true}],"nice":false},"axis":{"orient":"top","values":["2041-07-07","2041-07-23","2041-08-08","2041-08-24"],"labelExpr":"utcFormat(datum.value, '%-m/%-d/%Y')","title":"Mars Departure Date","tickSize":3,"labelPadding":11,"titlePadding":13}},
      "y":{"field":"v","type":"quantitative","scale":{"domain":[0,15],"zero":false,"nice":false},"axis":{"orient":"right","values":[0,3,6,9,12,15],"format":".1f","title":["Mars Departure C3","(km²/s²)"],"titleAngle":-90,"titleBaseline":"top","tickSize":4,"labelPadding":6,"titlePadding":-22}}}},
    {"data":{"name":"m4"},"mark":{"type":"point","shape":"triangle-up","filled":true,"color":"#ff0000","stroke":"#000","strokeWidth":1,"size":90,"opacity":1},
     "encoding":{"x":{"field":"d","type":"temporal","axis":{"orient":"top","values":["2041-07-07","2041-07-10T04:48:00Z","2041-07-13T09:36:00Z","2041-07-16T14:24:00Z","2041-07-19T19:12:00Z","2041-07-23","2041-07-26T04:48:00Z","2041-07-29T09:36:00Z","2041-08-01T14:24:00Z","2041-08-04T19:12:00Z","2041-08-08","2041-08-11T04:48:00Z","2041-08-14T09:36:00Z","2041-08-17T14:24:00Z","2041-08-20T19:12:00Z","2041-08-24","2041-08-27T04:48:00Z","2041-08-30T09:36:00Z","2041-09-02T14:24:00Z"],"labels":false,"domain":false,"tickSize":-4,"title":null}},"y":{"field":"v","type":"quantitative","axis":null}}},
    {"mark":{"type":"rule","color":"#ff0000","strokeWidth":2.5,"strokeDash":[10,5]},"encoding":{"y":{"field":"a","type":"quantitative","axis":null}}},
    {"mark":{"type":"rule","color":"#ff0000","strokeWidth":3},"encoding":{"x":{"field":"s","type":"temporal","axis":null},"y":{"datum":12.86,"type":"quantitative","axis":null},"y2":{"datum":15}}},
    {"mark":{"type":"rule","color":"#ff0000","strokeWidth":3},"encoding":{"x":{"field":"e","type":"temporal","axis":null},"y":{"datum":12.86,"type":"quantitative","axis":null},"y2":{"datum":15}}},
    {"mark":{"type":"rule","color":"#ff0000","strokeWidth":1.5,"xOffset":5,"x2Offset":-5},"encoding":{"x":{"field":"s","type":"temporal","axis":null},"x2":{"field":"e"},"y":{"datum":13.94,"type":"quantitative","axis":null}}},
    {"mark":{"type":"point","shape":"M1.5,-1L0,0L1.5,1","filled":false,"color":"#ff0000","strokeWidth":1.5,"size":49,"opacity":1,"xOffset":5},"encoding":{"x":{"field":"s","type":"temporal","axis":null},"y":{"datum":13.94,"type":"quantitative","axis":null}}},
    {"mark":{"type":"point","shape":"M-1.5,-1L0,0L-1.5,1","filled":false,"color":"#ff0000","strokeWidth":1.5,"size":49,"opacity":1,"xOffset":-5},"encoding":{"x":{"field":"e","type":"temporal","axis":null},"y":{"datum":13.94,"type":"quantitative","axis":null}}},
    {"mark":{"type":"point","shape":"M-3.79,-1L3.79,-1L3.79,1L-3.79,1Z","filled":true,"color":"#ffffff","size":196,"opacity":1},"encoding":{"x":{"field":"m","type":"temporal","axis":null},"y":{"datum":13.94,"type":"quantitative","axis":null}}},
    {"mark":{"type":"text","fontSize":13,"fontWeight":"bold","color":"#000","dy":1},"encoding":{"x":{"field":"m","type":"temporal","axis":null},"y":{"datum":13.94,"type":"quantitative","axis":null},"text":{"field":"t"}}}
   ],
   "resolve":{"axis":{"x":"independent","y":"independent"}}}
 ],
 "resolve":{"scale":{"x":"independent","y":"independent"}}
}
]},
{
 "width":800,"height":66.4,
 "data":{"name":"leg"},
 "encoding":{"y":{"field":"k","type":"ordinal","scale":{"type":"point","domain":["top","req","avail","win"],"padding":0.22},"axis":null}},
 "layer":[
  {"transform":[{"filter":"datum.g=='E' && datum.k=='req'"}],"mark":{"type":"rule","color":"#0000ff","strokeWidth":2.5},"encoding":{"x":{"datum":2.44,"type":"quantitative","scale":{"domain":[0,100],"zero":false,"nice":false},"axis":null},"x2":{"datum":15.56}}},
  {"transform":[{"filter":"datum.g=='E' && datum.k=='req'"}],"mark":{"type":"point","shape":"diamond","filled":true,"color":"#0000ff","stroke":"#000080","strokeWidth":1,"size":110,"opacity":1},"encoding":{"x":{"datum":9.31,"type":"quantitative","axis":null}}},
  {"transform":[{"filter":"datum.g=='E' && datum.k=='avail'"}],"mark":{"type":"rule","color":"#0000ff","strokeWidth":2.5,"strokeDash":[2,1.5]},"encoding":{"x":{"datum":2.44,"type":"quantitative","axis":null},"x2":{"datum":15.56}}},
  {"transform":[{"filter":"datum.g=='E' && datum.k=='win'"}],"mark":{"type":"rule","color":"#0000ff","strokeWidth":1.5,"yOffset":-3},"encoding":{"x":{"datum":2.56,"type":"quantitative","axis":null},"x2":{"datum":15.45}}},
  {"transform":[{"filter":"datum.g=='E' && datum.k=='win'"}],"mark":{"type":"point","shape":"M0,0L2,-1L2,1Z","filled":true,"color":"#0000ff","size":30,"opacity":1,"yOffset":-3},"encoding":{"x":{"datum":2.56,"type":"quantitative","axis":null}}},
  {"transform":[{"filter":"datum.g=='E' && datum.k=='win'"}],"mark":{"type":"point","shape":"M0,0L-2,-1L-2,1Z","filled":true,"color":"#0000ff","size":30,"opacity":1,"yOffset":-3},"encoding":{"x":{"datum":15.45,"type":"quantitative","axis":null}}},
  {"transform":[{"filter":"datum.g=='M' && datum.k=='req'"}],"mark":{"type":"rule","color":"#ff0000","strokeWidth":2.5},"encoding":{"x":{"datum":50.81,"type":"quantitative","axis":null},"x2":{"datum":64.56}}},
  {"transform":[{"filter":"datum.g=='M' && datum.k=='req'"}],"mark":{"type":"point","shape":"triangle-up","filled":true,"color":"#ff0000","stroke":"#000","strokeWidth":1,"size":110,"opacity":1,"yOffset":-3},"encoding":{"x":{"datum":57.56,"type":"quantitative","axis":null}}},
  {"transform":[{"filter":"datum.g=='M' && datum.k=='avail'"}],"mark":{"type":"rule","color":"#ff0000","strokeWidth":2.5,"strokeDash":[10,5]},"encoding":{"x":{"datum":50.81,"type":"quantitative","axis":null},"x2":{"datum":64.56}}},
  {"transform":[{"filter":"datum.g=='M' && datum.k=='win'"}],"mark":{"type":"rule","color":"#ff0000","strokeWidth":1.5,"yOffset":-3},"encoding":{"x":{"datum":51.19,"type":"quantitative","axis":null},"x2":{"datum":64.56}}},
  {"transform":[{"filter":"datum.g=='M' && datum.k=='win'"}],"mark":{"type":"point","shape":"M1.5,-1L0,0L1.5,1","filled":false,"color":"#ff0000","strokeWidth":1.5,"size":49,"opacity":1,"yOffset":-3},"encoding":{"x":{"datum":51.19,"type":"quantitative","axis":null}}},
  {"transform":[{"filter":"datum.g=='M' && datum.k=='win'"}],"mark":{"type":"point","shape":"M-1.5,-1L0,0L-1.5,1","filled":false,"color":"#ff0000","strokeWidth":1.5,"size":49,"opacity":1,"yOffset":-3},"encoding":{"x":{"datum":64.56,"type":"quantitative","axis":null}}},
  {"transform":[{"filter":"datum.g=='E'"}],"mark":{"type":"text","align":"left","baseline":"middle","fontSize":14,"fontWeight":"bold","color":"#000"},"encoding":{"x":{"datum":17.31,"type":"quantitative","axis":null},"text":{"field":"t"}}},
  {"transform":[{"filter":"datum.g=='M'"}],"mark":{"type":"text","align":"left","baseline":"middle","fontSize":14,"fontWeight":"bold","color":"#000"},"encoding":{"x":{"datum":65.56,"type":"quantitative","axis":null},"text":{"field":"t"}}}
 ]
}
]
}
